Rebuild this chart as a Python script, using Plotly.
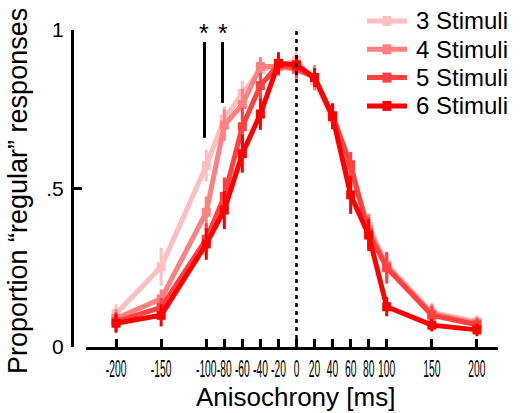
import plotly.graph_objects as go

# ---------------- data ----------------
anisochrony = [-200, -150, -100, -80, -60, -40, -20, 0, 20, 40, 60, 80, 100, 150, 200]
tick_vals = anisochrony
tick_text = [str(v) for v in anisochrony]

series_names = ["3 Stimuli", "4 Stimuli", "5 Stimuli", "6 Stimuli"]
series_colors = ["#FFBFBF", "#FF8080", "#FF4040", "#FF0000"]

stim3 = [0.105, 0.253, 0.572, 0.720, 0.800, 0.875, 0.885, 0.905, 0.840, 0.720, 0.550, 0.380, 0.260, 0.110, 0.080]
stim4 = [0.090, 0.152, 0.425, 0.700, 0.765, 0.885, 0.885, 0.875, 0.850, 0.730, 0.560, 0.370, 0.255, 0.105, 0.075]
stim5 = [0.080, 0.125, 0.340, 0.475, 0.695, 0.825, 0.890, 0.880, 0.850, 0.730, 0.575, 0.360, 0.250, 0.100, 0.070]
stim6 = [0.075, 0.100, 0.325, 0.432, 0.610, 0.735, 0.895, 0.890, 0.850, 0.727, 0.480, 0.353, 0.127, 0.069, 0.054]

err3 = [0.03, 0.06, 0.05, 0.04, 0.04, 0.03, 0.03, 0.04, 0.03, 0.03, 0.04, 0.04, 0.04, 0.03, 0.02]
err4 = [0.03, 0.03, 0.05, 0.05, 0.05, 0.03, 0.03, 0.03, 0.04, 0.04, 0.05, 0.05, 0.04, 0.03, 0.02]
err5 = [0.03, 0.03, 0.05, 0.06, 0.06, 0.04, 0.03, 0.03, 0.03, 0.04, 0.04, 0.05, 0.05, 0.03, 0.02]
err6 = [0.03, 0.035, 0.05, 0.06, 0.06, 0.05, 0.035, 0.03, 0.03, 0.04, 0.06, 0.05, 0.03, 0.02, 0.02]

series_values = [stim3, stim4, stim5, stim6]
series_errors = [err3, err4, err5, err6]

# significance markers: (x position, bottom of bar)
sig_x = [-102, -82]
sig_bottom = [0.66, 0.77]
sig_top = 0.962

# ---------------- layout geometry (pixels) ----------------
W, H = 521, 413
L, R, T, B = 72, 23, 30, 66
PW, PH = W - L - R, H - T - B
FONT = "Liberation Sans, Arial, Helvetica, sans-serif"


def px_x(p):
    return (p - L) / PW


def px_y(p):
    return (H - B - p) / PH


fig = go.Figure()

for name, color, vals, errs in zip(series_names, series_colors, series_values, series_errors):
    fig.add_trace(go.Scatter(
        x=anisochrony, y=vals, name=name, mode="lines+markers",
        line=dict(color=color, width=5),
        marker=dict(symbol="square", size=9, color=color),
        error_y=dict(type="data", array=errs, visible=True, color=color,
                     thickness=3, width=0),
        showlegend=False,
    ))

shapes = []
# dotted line at 0
shapes.append(dict(type="line", xref="x", yref="paper", x0=0, x1=0, y0=0, y1=px_y(28),
                   line=dict(color="black", width=2.5, dash="4px,4px")))
# significance bars
for sx, sb in zip(sig_x, sig_bottom):
    shapes.append(dict(type="line", xref="x", yref="y", x0=sx, x1=sx, y0=sb, y1=sig_top,
                       line=dict(color="black", width=3)))

annotations = []
for sx in sig_x:
    annotations.append(dict(x=sx, xref="x", y=px_y(33), yref="paper", text="*",
                            showarrow=False, xanchor="center", yanchor="middle",
                            font=dict(family=FONT, size=25, color="black")))

# manual legend
for i, (name, color) in enumerate(zip(series_names, series_colors)):
    cy = 21 + 28.3 * i
    shapes.append(dict(type="line", xref="paper", yref="paper",
                       x0=px_x(367), x1=px_x(407), y0=px_y(cy), y1=px_y(cy),
                       line=dict(color=color, width=5)))
    shapes.append(dict(type="rect", xref="paper", yref="paper",
                       x0=px_x(382.5), x1=px_x(391.5), y0=px_y(cy + 5), y1=px_y(cy - 5),
                       fillcolor=color, line=dict(width=0)))
    annotations.append(dict(x=px_x(414), y=px_y(cy), xref="paper", yref="paper",
                            text=name, showarrow=False, xanchor="left", yanchor="middle",
                            font=dict(family=FONT, size=24, color="black")))

# axis titles
annotations.append(dict(x=px_x(295), y=px_y(397), xref="paper", yref="paper",
                        text="Anisochrony [ms]", showarrow=False,
                        xanchor="center", yanchor="middle",
                        font=dict(family=FONT, size=26, color="black")))
annotations.append(dict(x=px_x(18), y=px_y(191), xref="paper", yref="paper",
                        text="Proportion “regular” responses", showarrow=False, textangle=-90,
                        xanchor="center", yanchor="middle",
                        font=dict(family=FONT, size=27, color="black")))

slope = 0.9023
x_left = (86 - 296.5) / slope
x_right = (498 - 296.5) / slope

fig.update_layout(
    width=W, height=H,
    margin=dict(l=L, r=R, t=T, b=B, pad=0),
    paper_bgcolor="white", plot_bgcolor="white",
    showlegend=False,
    shapes=shapes, annotations=annotations,
    xaxis=dict(domain=[(86 - L) / PW, 1], range=[x_left, x_right],
               tickmode="array", tickvals=tick_vals, ticktext=tick_text, tickangle=0,
               ticks="inside", ticklen=8, tickwidth=2.5, tickcolor="black",
               showline=True, linewidth=2.5, linecolor="black",
               showgrid=False, zeroline=False,
               tickfont=dict(family=FONT, size=24, color="black"),
               ticklabelstandoff=-2),
    yaxis=dict(anchor="free", position=0, range=[0, 1],
               tickmode="array", tickvals=[0, 0.5, 1], ticktext=["0", ".5", "1"],
               ticks="inside", ticklen=8, tickwidth=3, tickcolor="black",
               showline=True, linewidth=3, linecolor="black",
               showgrid=False, zeroline=False,
               tickfont=dict(family=FONT, size=21, color="black"),
               ticklabelstandoff=3),
)

# narrow the x tick labels horizontally, as in the reference (labels stay real text)
post = """
var gd = document.getElementById('{plot_id}');
gd.querySelectorAll('.xtick text').forEach(function(t){
  var tr = t.getAttribute('transform') || '';
  var x = parseFloat(t.getAttribute('x')) || 0;
  t.setAttribute('transform', tr + ' translate(' + x + ',0) scale(0.43,1) translate(' + (-x) + ',0)');
});
"""

fig.write_html("out.html", post_script=post)
